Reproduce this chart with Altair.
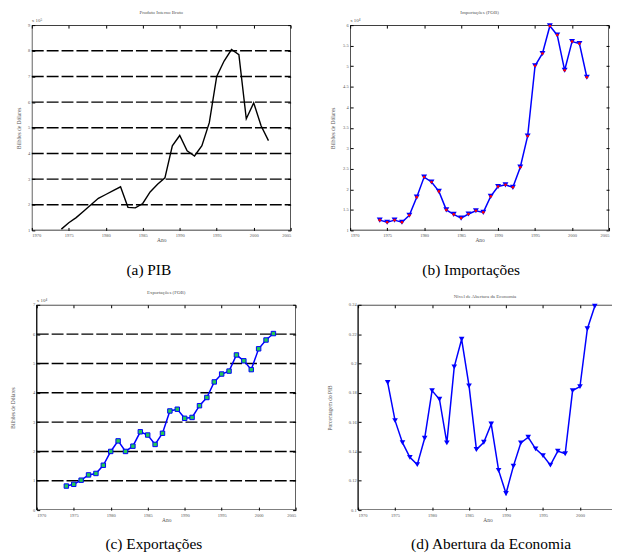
import altair as alt
import pandas as pd

# ---------------- data ----------------
years = list(range(1974, 2003))
pib = [1.05, 1.3, 1.5, 1.75, 2.0, 2.25, 2.4, 2.55, 2.7, 1.9, 1.88, 2.05, 2.5, 2.8, 3.05,
       4.3, 4.7, 4.1, 3.9, 4.3, 5.2, 7.0, 7.6, 8.05, 7.85, 5.35, 5.97, 5.08, 4.5]
importacoes = [1.25, 1.2, 1.25, 1.2, 1.37, 1.81, 2.3, 2.18, 1.95, 1.5, 1.39, 1.3, 1.4, 1.48, 1.44,
               1.83, 2.07, 2.11, 2.05, 2.54, 3.3, 5.01, 5.31, 5.98, 5.76, 4.9, 5.6, 5.55, 4.73]
exportacoes = [0.82, 0.88, 1.02, 1.2, 1.25, 1.53, 2.0, 2.36, 2.0, 2.18, 2.67, 2.56, 2.24, 2.62, 3.38,
               3.44, 3.13, 3.16, 3.56, 3.84, 4.37, 4.64, 4.74, 5.29, 5.09, 4.79, 5.5, 5.8, 6.02]
abertura = [0.187, 0.161, 0.146, 0.136, 0.131, 0.149, 0.1815, 0.1756, 0.1458, 0.1977, 0.2165, 0.1847,
            0.1413, 0.1463, 0.1587, 0.1271, 0.1113, 0.130, 0.1458, 0.1497, 0.1418, 0.1372, 0.1307,
            0.1402, 0.1384, 0.1815, 0.1842, 0.2237, 0.239]

x_ticks = [1970, 1975, 1980, 1985, 1990, 1995, 2000, 2005]
x_ticks_d = [1970, 1975, 1980, 1985, 1990, 1995, 2000]
pib_ticks = [1, 2, 3, 4, 5, 6, 7, 8, 9]
pib_grid = [2, 3, 4, 5, 6, 7, 8]
imp_ticks = [1, 1.5, 2, 2.5, 3, 3.5, 4, 4.5, 5, 5.5, 6]
exp_ticks = [0, 1, 2, 3, 4, 5, 6, 7]
exp_grid = [1, 2, 3, 4, 5, 6]
ab_ticks = [0.1, 0.12, 0.14, 0.16, 0.18, 0.2, 0.22, 0.24]

titles = ["Produto Interno Bruto", "Importações (FOB)", "Exportações (FOB)",
          "Nível de Abertura da Economia"]
ylabels = ["Bilhões de Dólares", "Bilhões de Dólares", "Bilhões de Dólares", "Porcentagem do PIB"]
mults = ["x 10⁵", "x 10⁴", "x 10⁴", ""]
captions = ["(a)  PIB", "(b)  Importações", "(c)  Exportações", "(d)  Abertura da Economia"]

TICK = 3
LAB_FONT = "Liberation Serif"
CAP_FONT = "Liberation Serif"
H = 207


def panel(values, ydom, yticks, yfmt, grid_vals, title, ylabel, mult, caption,
          w, x0, x1, xvals, style, title_x, cap_x, cap_y, right_axis=True, title_dx=0):
    df = pd.DataFrame({"Ano": years, "v": values})
    xs = alt.Scale(domain=[1970, 2005], range=[x0, x1], nice=False, zero=False)
    ys = alt.Scale(domain=ydom, nice=False, zero=False)
    xax = alt.Axis(values=xvals, format="d", title="Ano", orient="bottom", offset=-TICK,
                   tickSize=TICK, domain=False, grid=False, labelPadding=2, titlePadding=1,
                   labelFontSize=4.5, titleFontSize=5.5, labelFont=LAB_FONT, titleFont=LAB_FONT,
                   titleFontWeight="normal", labelColor="#555", titleColor="#555",
                   tickColor="black", tickWidth=1)
    yax = alt.Axis(values=yticks, format=yfmt, title=ylabel, orient="left", offset=-(x0 + TICK),
                   tickSize=TICK, domain=False, grid=False, labelPadding=2,
                   labelFontSize=4.5, titleFontSize=5.5, labelFont=LAB_FONT, titleFont=LAB_FONT,
                   titleFontWeight="normal", labelColor="#555", titleColor="#555",
                   titleX=title_x, titleY=H / 2, titleBaseline="middle",
                   tickColor="black", tickWidth=1)
    X = alt.X("Ano:Q", scale=xs, axis=xax)
    Y = alt.Y("v:Q", scale=ys, axis=yax)

    one = pd.DataFrame({"k": [0]})
    layers = []
    frame = alt.Chart(one).mark_rect(fillOpacity=0, stroke="black", strokeWidth=1.3, clip=True).encode(
        x=alt.value(x0), x2=alt.value(x1), y=alt.value(0), y2=alt.value(H))
    layers.append(frame)
    if grid_vals:
        gdf = pd.DataFrame({"v": grid_vals})
        layers.append(alt.Chart(gdf).mark_rule(color="black", strokeWidth=1.4, strokeDash=[12, 3]).encode(
            x=alt.value(x0), x2=alt.value(x1), y=Y))
    if style == "black":
        layers.append(alt.Chart(df).mark_line(color="black", strokeWidth=1.4).encode(x=X, y=Y))
    else:
        layers.append(alt.Chart(df).mark_line(color="#0000ff", strokeWidth=1.5).encode(x=X, y=Y))
        if style == "tri_red":
            layers.append(alt.Chart(df).mark_point(shape="triangle-down", filled=True, color="#0000ff",
                                                   size=36, opacity=1).encode(x=X, y=Y))
            layers.append(alt.Chart(df).mark_point(shape="circle", filled=True, color="#ff0000",
                                                   size=7, opacity=1).encode(x=X, y=Y))
        elif style == "square":
            layers.append(alt.Chart(df).mark_point(shape="square", filled=False, stroke="#0000ff",
                                                   fill="#22cc55", fillOpacity=1, strokeWidth=1,
                                                   size=20, opacity=1).encode(x=X, y=Y))
        elif style == "tri":
            layers.append(alt.Chart(df).mark_point(shape="triangle-down", filled=True, color="#0000ff",
                                                   size=32, opacity=1).encode(x=X, y=Y))
    if mult:
        layers.append(alt.Chart(pd.DataFrame({"t": [mult]})).mark_text(
            align="left", baseline="bottom", fontSize=5, font=LAB_FONT, color="#555").encode(
            text="t:N", x=alt.value(x0), y=alt.value(-2)))
    layers.append(alt.Chart(pd.DataFrame({"t": [caption]})).mark_text(
        align="center", baseline="middle", fontSize=15.5, font=CAP_FONT, color="black").encode(
        text="t:N", x=alt.value(cap_x), y=alt.value(cap_y)))
    inner = alt.layer(*layers)

    top_ax = alt.Axis(orient="top", values=xvals, labels=False, title="", offset=-TICK, tickSize=TICK,
                      domain=False, grid=False, tickColor="black", tickWidth=1)
    if right_axis:
        right_ax = alt.Axis(orient="right", values=yticks, labels=False, title="",
                            offset=x1 - TICK - w, tickSize=TICK, domain=False, grid=False,
                            tickColor="black", tickWidth=1)
    else:
        right_ax = None
    mirror = alt.Chart(df).mark_point(opacity=0).encode(
        x=alt.X("Ano:Q", scale=xs, axis=top_ax),
        y=alt.Y("v:Q", scale=ys, axis=right_ax))
    return alt.layer(inner, mirror).resolve_axis(x="independent", y="independent").properties(
        width=w, height=H,
        title=alt.TitleParams(title, fontSize=5, font=LAB_FONT, fontWeight="normal",
                              color="#555", offset=3, anchor="middle", dx=title_dx))


# column 1 is 266 wide (panel c frame starts 5px in); column 2 starts 321px after column 1
pa = panel(pib, [1, 9], pib_ticks, "d", pib_grid, titles[0], ylabels[0], mults[0], captions[0],
           261, 0, 261, x_ticks, "black", -16.5, 118, 247)
pb = panel(importacoes, [1, 6], imp_ticks, ".1~f", None, titles[1], ylabels[1], mults[1], captions[1],
           261, 0, 261, x_ticks, "tri_red", -20.5, 122, 247)
pc = panel(exportacoes, [0, 7], exp_ticks, "d", exp_grid, titles[2], ylabels[2], mults[2], captions[2],
           266, 5, 266, x_ticks, "square", -27.5, 123, 241, title_dx=2.5)
pd_ = panel(abertura, [0.1, 0.24], ab_ticks, ".2~f", None, titles[3], ylabels[3], mults[3], captions[3],
            264, 8, 269, x_ticks_d, "tri", -31.5, 142, 241, right_axis=False, title_dx=4)

chart = alt.concat(pa, pb, pc, pd_, columns=2, spacing={"row": 75, "column": 55},
                   bounds="flush").configure_view(strokeOpacity=0).properties(
    padding={"left": 2, "top": 0, "right": 0, "bottom": 0}, background="white")

chart.save("out.html", embed_options={"renderer": "svg", "actions": False})
